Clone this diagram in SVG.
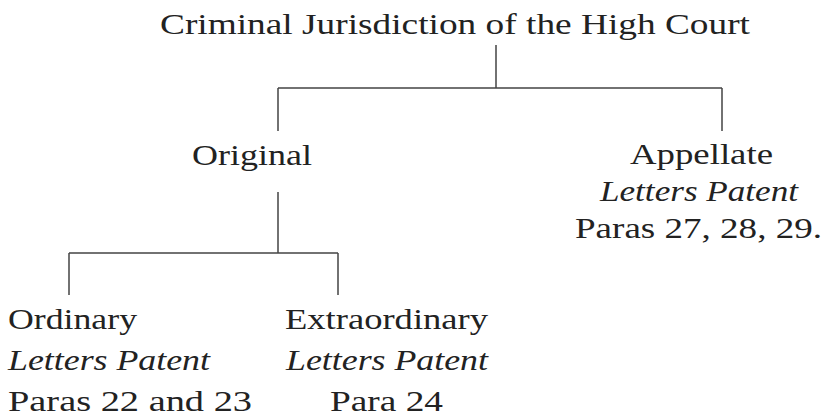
<svg xmlns="http://www.w3.org/2000/svg" width="826" height="417" viewBox="0 0 826 417" font-family="'Liberation Serif', 'DejaVu Serif', serif">
<style>
text{font-size:29px;fill:#222}
.it{font-style:italic}
.ln{stroke:#444;stroke-width:1.5;fill:none}
</style>
<rect width="826" height="417" fill="#fff"/>
<g id="connectors">
<path class="ln" d="M496,45V88M278,88H722M278,88V131M722,88V131"/>
<path class="ln" d="M278,192V253M69,253H338M69,253V295M338,253V295"/>
</g>
<g id="root"><text x="160" y="34" textLength="590" lengthAdjust="spacingAndGlyphs">Criminal Jurisdiction of the High Court</text></g>
<g id="original"><text x="192" y="165" textLength="120" lengthAdjust="spacingAndGlyphs">Original</text></g>
<g id="appellate">
<text x="630" y="164" textLength="143" lengthAdjust="spacingAndGlyphs">Appellate</text>
<text class="it" x="600" y="201" textLength="198" lengthAdjust="spacingAndGlyphs">Letters Patent</text>
<text x="575" y="238" textLength="247" lengthAdjust="spacingAndGlyphs">Paras 27, 28, 29.</text>
</g>
<g id="ordinary">
<text x="8" y="329" textLength="129" lengthAdjust="spacingAndGlyphs">Ordinary</text>
<text class="it" x="8" y="370" textLength="202" lengthAdjust="spacingAndGlyphs">Letters Patent</text>
<text x="8" y="411" textLength="244" lengthAdjust="spacingAndGlyphs">Paras 22 and 23</text>
</g>
<g id="extraordinary">
<text x="285" y="329" textLength="203" lengthAdjust="spacingAndGlyphs">Extraordinary</text>
<text class="it" x="286" y="370" textLength="202" lengthAdjust="spacingAndGlyphs">Letters Patent</text>
<text x="330" y="411" textLength="113" lengthAdjust="spacingAndGlyphs">Para 24</text>
</g>
</svg>
